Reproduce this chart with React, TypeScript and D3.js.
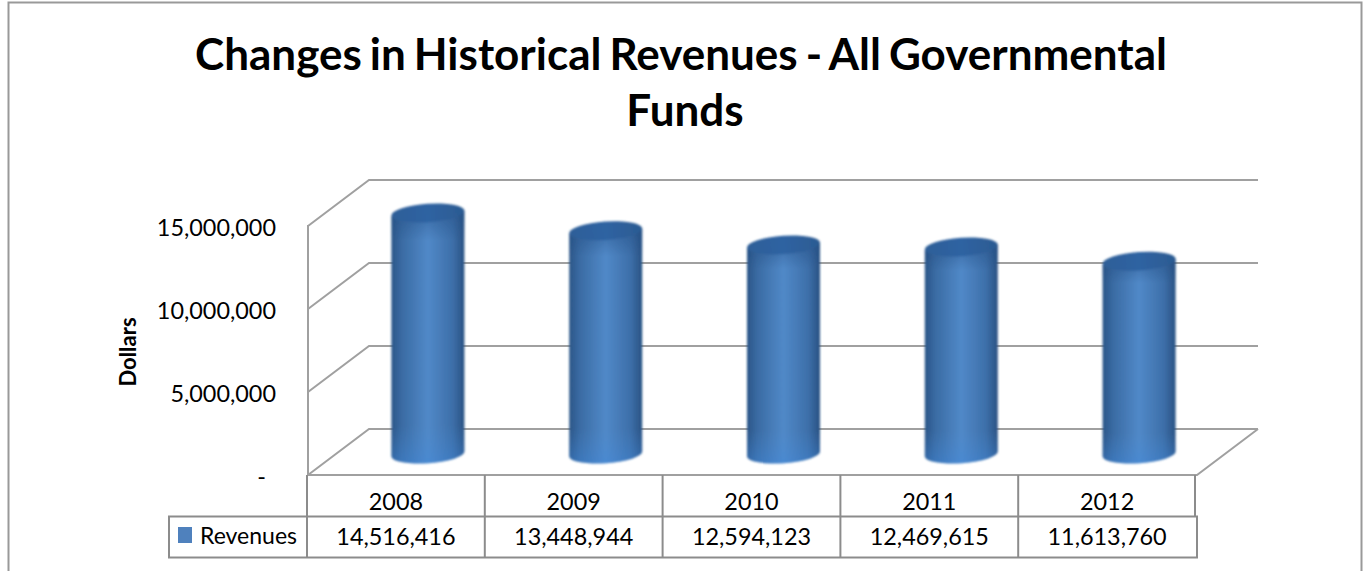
import { scaleBand, scaleLinear, format } from "d3";

const width = 1368;
const height = 571;

const years = ["2008", "2009", "2010", "2011", "2012"];
const revenues = [14516416, 13448944, 12594123, 12469615, 11613760];
const ticks = [0, 5000000, 10000000, 15000000];
const titleLines = ["Changes in Historical Revenues - All Governmental", "Funds"];
const seriesName = "Revenues";
const yAxisTitle = "Dollars";

const fontFamily = "Lato, Carlito, 'Open Sans', sans-serif";
const gridColor = "#a0a0a0";
const tableColor = "#8c8c8c";

// 3D box offsets: the back wall sits up and to the right of the front
const depthX = 61;
const depthY = 46;
const floorLeft = 307;
const floorRight = 1196;

const yBack = scaleLinear().domain([0, 15000000]).range([429, 180]);
const yBar = scaleLinear().domain([0, 15000000]).range([454, 205]);
const x = scaleBand().domain(years).range([floorLeft, floorRight]);

const fmt = format(",");
const barOffset = 32;
const rx = 36.5;
const ry = 9.2;
const tilt = 2.6;

function Cylinder({ year, value }: { year: string; value: number }) {
  const cx = x(year)! + x.bandwidth() / 2 + barOffset;
  const top = yBar(value);
  const base = yBar(0);
  const l = cx - rx;
  const r = cx + rx;
  const body = `M${l},${top + tilt} L${l},${base + tilt} A${rx},${ry} -4 0 0 ${r},${base - tilt} L${r},${top - tilt} Z`;
  return (
    <g filter="url(#soft)">
      <path d={body} fill="url(#bodyH)" />
      <path d={body} fill="url(#bodyV)" />
      <ellipse cx={cx} cy={top} rx={rx} ry={ry} transform={`rotate(-4 ${cx} ${top})`} fill="url(#cap)" />
    </g>
  );
}

function App() {
  const tableTop = yBack(0) + depthY;
  return (
    <svg
      width={width}
      height={height}
      style={{ position: "absolute", left: 0, top: 0, display: "block", background: "#fff" }}
      fontFamily={fontFamily}
    >
      <defs>
        <linearGradient id="bodyH" x1="0" x2="1" y1="0" y2="0">
          <stop offset="0" stopColor="#2b5587" />
          <stop offset="0.14" stopColor="#3a6ba3" />
          <stop offset="0.5" stopColor="#5189c8" />
          <stop offset="0.84" stopColor="#3d6fa9" />
          <stop offset="1" stopColor="#2a5283" />
        </linearGradient>
        <linearGradient id="bodyV" x1="0" x2="0" y1="0" y2="1">
          <stop offset="0" stopColor="#234f85" stopOpacity="0.55" />
          <stop offset="0.12" stopColor="#234f85" stopOpacity="0" />
          <stop offset="0.85" stopColor="#4a90dc" stopOpacity="0" />
          <stop offset="1" stopColor="#3f8ae0" stopOpacity="0.4" />
        </linearGradient>
        <linearGradient id="cap" x1="0" x2="1" y1="0" y2="0">
          <stop offset="0" stopColor="#2f5f98" />
          <stop offset="0.5" stopColor="#2f63a2" />
          <stop offset="1" stopColor="#2c5b92" />
        </linearGradient>
        <filter id="soft" x="-10%" y="-10%" width="120%" height="120%">
          <feGaussianBlur stdDeviation="1" />
        </filter>
      </defs>

      {/* chart frame, runs off the bottom of the picture */}
      <path d={`M8.5,${height} L8.5,2.5 L1361.5,2.5 L1361.5,${height}`} fill="none" stroke="#999" strokeWidth={2} />

      {titleLines.map((line, i) => (
        <text
          key={line}
          x={681 + i * 4}
          y={70 + i * 56}
          textAnchor="middle"
          fontSize={44}
          fontWeight={700}
          wordSpacing={-2.7}
          fill="#000"
        >
          {line}
        </text>
      ))}

      {/* walls and gridlines */}
      <g fill="none" stroke={gridColor} strokeWidth={2}>
        <line x1={floorLeft + 1} x2={floorLeft + 1} y1={yBack(15000000) + depthY - 1} y2={tableTop} />
        {ticks.map((t) => (
          <path
            key={t}
            d={`M${floorLeft + 1},${yBack(t) + depthY} L${floorLeft + 1 + depthX},${yBack(t)} L${floorRight + 1 + depthX},${yBack(t)}`}
          />
        ))}
        <path d={`M${floorLeft},${tableTop} L${floorRight + 1},${tableTop} L${floorRight + 1 + depthX},${yBack(0)}`} />
      </g>

      {years.map((year, i) => (
        <Cylinder key={year} year={year} value={revenues[i]} />
      ))}

      {/* value axis */}
      <g fontSize={23.4} fill="#000" textAnchor="end">
        {ticks.map((t) => (
          <text key={t} x={t === 0 ? 266 : 276} y={yBack(t) + depthY + 10}>
            {t === 0 ? "-" : fmt(t)}
          </text>
        ))}
      </g>
      <text
        transform="translate(136,352) rotate(-90)"
        textAnchor="middle"
        fontSize={22}
        fontWeight={700}
        fill="#000"
      >
        {yAxisTitle}
      </text>

      {/* category row */}
      <g stroke={tableColor} strokeWidth={2}>
        {years.map((year) => (
          <line key={year} x1={x(year)} x2={x(year)} y1={tableTop} y2={516} />
        ))}
        <line x1={floorRight - 1} x2={floorRight - 1} y1={tableTop} y2={516} />
      </g>
      {years.map((year) => (
        <text key={year} x={x(year)! + x.bandwidth() / 2} y={510} textAnchor="middle" fontSize={23.4} fill="#000">
          {year}
        </text>
      ))}

      {/* data table row */}
      <rect x={169} y={516.5} width={floorRight + 1 - 169} height={41} fill="none" stroke={tableColor} strokeWidth={2} />
      <g stroke={tableColor} strokeWidth={2}>
        {years.map((year) => (
          <line key={year} x1={x(year)} x2={x(year)} y1={516.5} y2={557.5} />
        ))}
      </g>
      <rect x={178} y={527} width={14} height={16} fill="#4f81bd" />
      <text x={200} y={544} fontSize={23} fill="#000">
        {seriesName}
      </text>
      {years.map((year, i) => (
        <text key={year} x={x(year)! + x.bandwidth() / 2} y={545} textAnchor="middle" fontSize={23.4} fill="#000">
          {fmt(revenues[i])}
        </text>
      ))}
    </svg>
  );
}

export default App;
